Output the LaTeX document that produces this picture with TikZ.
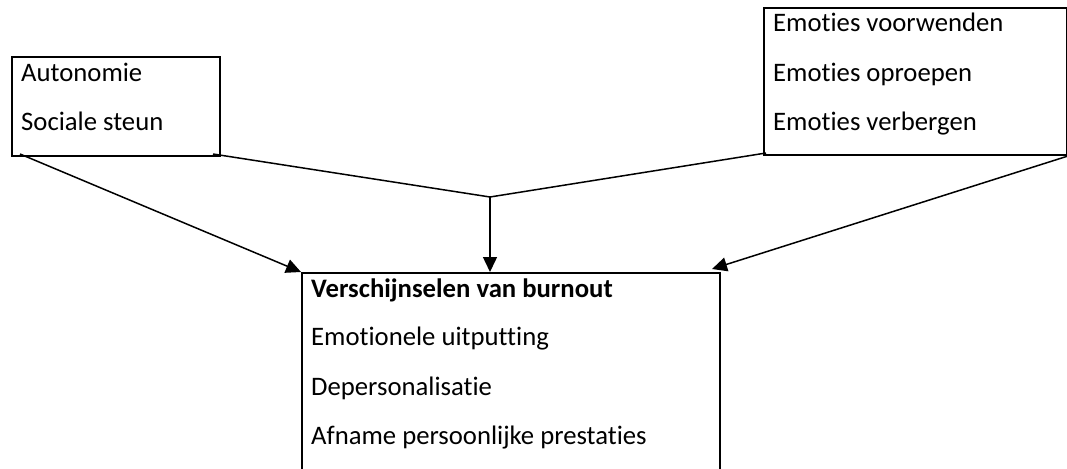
\documentclass[tikz,border=0pt]{standalone}
\usepackage{fontspec}
\setmainfont{Carlito}[Ligatures=NoCommon]
\usetikzlibrary{positioning,arrows.meta}

\begin{document}
\begin{tikzpicture}[x=1pt,y=-1pt,box/.style={draw,line width=2pt,anchor=north west,inner sep=0pt},item/.style={anchor=base west,inner sep=0pt,font=\fontsize{26.7}{31}\selectfont},arr/.style={-{Triangle[length=15pt,width=14pt]},line width=1.5pt},link/.style={line width=1.5pt}]
\useasboundingbox (0,0) rectangle (1067,468);
\node[box,minimum width=208pt,minimum height=99pt] (resources) at (11,56) {};
\node[box,minimum width=303pt,minimum height=147pt] (demands) at (763,7) {};
\node[box,minimum width=418pt,minimum height=260pt] (burnout) at (301,272) {};
\node[item] (autonomy) at ([shift={(10,26)}]resources.north west) {Autonomie};
\node[item] (support) at ([shift={(10,75)}]resources.north west) {Sociale steun};
\node[item] (faking) at ([shift={(10,25)}]demands.north west) {Emoties voorwenden};
\node[item] (evoking) at ([shift={(10,75)}]demands.north west) {Emoties oproepen};
\node[item] (hiding) at ([shift={(10,123)}]demands.north west) {Emoties verbergen};
\node[item,font=\fontsize{26.7}{31}\selectfont\bfseries] (title) at ([shift={(10,25)}]burnout.north west) {Verschijnselen van burnout};
\node[item] (exhaustion) at ([shift={(10,73)}]burnout.north west) {Emotionele uitputting};
\node[item] (depers) at ([shift={(10,123)}]burnout.north west) {Depersonalisatie};
\node[item] (achieve) at ([shift={(10,172)}]burnout.north west) {Afname persoonlijke prestaties};
\coordinate (join) at (490,197);
\draw[arr] ([shift={(9,-3)}]resources.south west)--(burnout.north west);
\draw[link] ([shift={(-8,-3)}]resources.south east)--(join);
\draw[link] ([shift={(3,-3)}]demands.south west)--(join);
\draw[arr] (join)--(join |- burnout.north);
\draw[arr] (demands.south east)--([shift={(-9,-3)}]burnout.north east);
\end{tikzpicture}
\end{document}
